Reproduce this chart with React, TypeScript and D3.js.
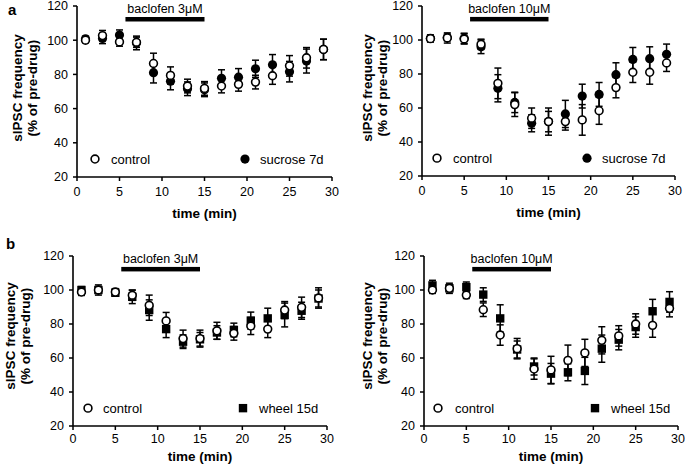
import React from "react";
import * as d3 from "d3";

const times = [1, 3, 5, 7, 9, 11, 13, 15, 17, 19, 21, 23, 25, 27, 29];
const xTicks = [0, 5, 10, 15, 20, 25, 30];
const yTicks = [20, 40, 60, 80, 100, 120];

// Panel a, baclofen 3µM
const aLeftControl = [100, 102.7, 99, 98.8, 86.4, 79.4, 73.2, 71.8, 73.2, 74.2, 75.5, 79.2, 85, 89.7, 94.6];
const aLeftControlErr = [1.5, 3, 2.5, 3, 6, 5, 4, 4, 4, 4, 4, 5, 6, 6, 6];
const aLeftSucrose = [100.8, 101, 103, 98.4, 81, 76, 71.6, 71, 77.7, 78.4, 83.3, 85.6, 81.6, 87.8, 94.6];
const aLeftSucroseErr = [1.5, 3, 3, 4, 6, 5, 4, 4, 5, 5, 5, 6, 6, 7, 6];

// Panel a, baclofen 10µM
const aRightControl = [100.8, 101.2, 100.6, 97.5, 74.5, 62, 54, 52, 52, 53, 58.4, 72, 81, 81, 86.5];
const aRightControlErr = [2, 3, 3, 3, 9, 7, 6, 8, 5, 9, 8, 6, 6, 7, 5];
const aRightSucrose = [101, 101.5, 101, 96, 71.6, 63.3, 51, 52, 56.5, 67, 68, 79.6, 88.6, 89, 91.6];
const aRightSucroseErr = [2, 2, 3, 4, 8, 6, 5, 6, 8, 7, 7, 7, 7, 7, 6];

// Panel b, baclofen 3µM
const bLeftControl = [98.8, 100, 98.8, 96.9, 91, 81.8, 71.4, 71.4, 76, 74.5, 78.8, 77, 88.2, 89.8, 95.3];
const bLeftControlErr = [2, 3, 2, 3, 6, 5, 5, 5, 5, 4, 5, 5, 5, 6, 6];
const bLeftWheel = [100, 100, 98.4, 96, 88.2, 77, 69.6, 71, 75, 76.5, 82, 83.3, 85.3, 87.8, 95];
const bLeftWheelErr = [2, 2, 2, 4, 6, 5, 4, 4, 4, 4, 5, 6, 7, 5, 5];

// Panel b, baclofen 10µM
const bRightControl = [100, 101, 97, 88.4, 73.5, 65.5, 53.5, 53, 58.6, 63, 70.4, 73, 80, 79.2, 89.2];
const bRightControlErr = [2, 3, 2, 4, 6, 6, 6, 8, 9, 8, 8, 6, 6, 7, 5];
const bRightWheel = [102.7, 101, 101.7, 97.3, 83.3, 65, 55, 50.8, 51.6, 52.4, 65.5, 70.8, 78.2, 87.5, 93];
const bRightWheelErr = [3, 2, 3, 4, 8, 5, 5, 6, 5, 8, 8, 6, 6, 7, 6];

const drugStart = 5.7;
const drugEnd = 15;

const FONT = "Arial, 'Liberation Sans', sans-serif";

type PanelProps = {
  x0: number; x1: number; yTop: number; yBot: number;
  control: number[]; controlErr: number[];
  treat: number[]; treatErr: number[];
  treatShape: "circle" | "square";
  treatLabel: string; drugLabel: string;
  ylab1: number; ylab2: number; ylabY: number;
  legCtrlX: number; legTreatX: number; legTreatTextX: number; legCtrlTextX: number;
  tickOff: number; xlabOff: number;
};

function Panel(p: PanelProps) {
  const x = d3.scaleLinear().domain([0, 30]).range([p.x0, p.x1]);
  const y = d3.scaleLinear().domain([20, 120]).range([p.yBot, p.yTop]);
  const cap = 3.5;
  const errBars = (vals: number[], errs: number[], key: string) =>
    times.map((t, i) => {
      const cx = x(t);
      const lo = y(vals[i] - errs[i]);
      const hi = y(vals[i] + errs[i]);
      return (
        <g key={key + i} stroke="#000" strokeWidth={1.5}>
          <line x1={cx} x2={cx} y1={lo} y2={hi} />
          <line x1={cx - cap} x2={cx + cap} y1={lo} y2={lo} />
          <line x1={cx - cap} x2={cx + cap} y1={hi} y2={hi} />
        </g>
      );
    });
  const legY = y(30.5);
  return (
    <g fontFamily={FONT}>
      {/* drug bar */}
      <rect x={x(drugStart)} y={y(112.4) - 2} width={x(drugEnd) - x(drugStart)} height={4.5} fill="#000" />
      <text x={(x(drugStart) + x(drugEnd)) / 2} y={y(112.4) - 6} textAnchor="middle" fontSize={12.5}>{p.drugLabel}</text>
      {/* axes */}
      <line x1={p.x0} x2={p.x0} y1={p.yTop} y2={p.yBot} stroke="#000" strokeWidth={1.6} />
      <line x1={p.x0} x2={p.x1} y1={p.yBot} y2={p.yBot} stroke="#000" strokeWidth={1.6} />
      {yTicks.map((v) => (
        <g key={"yt" + v}>
          <line x1={p.x0 - 4} x2={p.x0} y1={y(v)} y2={y(v)} stroke="#000" strokeWidth={1.5} />
          <text x={p.x0 - 9} y={y(v) + 4.3} textAnchor="end" fontSize={12.5}>{v}</text>
        </g>
      ))}
      {xTicks.map((v) => (
        <g key={"xt" + v}>
          <line x1={x(v)} x2={x(v)} y1={p.yBot} y2={p.yBot + 4} stroke="#000" strokeWidth={1.5} />
          <text x={x(v)} y={p.yBot + p.tickOff} textAnchor="middle" fontSize={12.5}>{v}</text>
        </g>
      ))}
      <text x={(p.x0 + p.x1) / 2} y={p.yBot + p.xlabOff} textAnchor="middle" fontSize={13.5} fontWeight="bold">time (min)</text>
      <text transform={`translate(${p.ylab1},${p.ylabY}) rotate(-90)`} textAnchor="middle" dominantBaseline="central" fontSize={13.5} fontWeight="bold">sIPSC frequency</text>
      <text transform={`translate(${p.ylab2},${p.ylabY}) rotate(-90)`} textAnchor="middle" dominantBaseline="central" fontSize={13.5} fontWeight="bold">(% of pre-drug)</text>
      {/* treatment series */}
      {errBars(p.treat, p.treatErr, "te")}
      {times.map((t, i) =>
        p.treatShape === "circle" ? (
          <circle key={"tm" + i} cx={x(t)} cy={y(p.treat[i])} r={4.6} fill="#000" />
        ) : (
          <rect key={"tm" + i} x={x(t) - 4.2} y={y(p.treat[i]) - 4.2} width={8.4} height={8.4} fill="#000" />
        )
      )}
      {/* control series */}
      {errBars(p.control, p.controlErr, "ce")}
      {times.map((t, i) => (
        <circle key={"cm" + i} cx={x(t)} cy={y(p.control[i])} r={3.9} fill="#fff" stroke="#000" strokeWidth={1.6} />
      ))}
      {/* legend */}
      <circle cx={p.legCtrlX} cy={legY} r={3.9} fill="#fff" stroke="#000" strokeWidth={1.6} />
      <text x={p.legCtrlTextX} y={legY + 4.5} fontSize={13}>control</text>
      {p.treatShape === "circle" ? (
        <circle cx={p.legTreatX} cy={legY} r={4.6} fill="#000" />
      ) : (
        <rect x={p.legTreatX - 4.2} y={legY - 4.2} width={8.4} height={8.4} fill="#000" />
      )}
      <text x={p.legTreatTextX} y={legY + 4.5} fontSize={13}>{p.treatLabel}</text>
    </g>
  );
}

export default function App() {
  return (
    <svg width={685} height={468} style={{ position: "absolute", left: 0, top: 0, background: "#fff" }}>
      <rect width={685} height={468} fill="#fff" />
      <text x={8} y={15} fontFamily={FONT} fontSize={15} fontWeight="bold">a</text>
      <text x={6} y={249} fontFamily={FONT} fontSize={15} fontWeight="bold">b</text>
      <Panel x0={77} x1={332} yTop={6} yBot={177}
        control={aLeftControl} controlErr={aLeftControlErr}
        treat={aLeftSucrose} treatErr={aLeftSucroseErr} treatShape="circle"
        treatLabel="sucrose 7d" drugLabel="baclofen 3μM"
        ylab1={17} ylab2={32} ylabY={88}
        legCtrlX={95} legCtrlTextX={111} legTreatX={245} legTreatTextX={260}
        tickOff={19} xlabOff={41} />
      <Panel x0={422} x1={675} yTop={6} yBot={176}
        control={aRightControl} controlErr={aRightControlErr}
        treat={aRightSucrose} treatErr={aRightSucroseErr} treatShape="circle"
        treatLabel="sucrose 7d" drugLabel="baclofen 10μM"
        ylab1={367} ylab2={382} ylabY={88}
        legCtrlX={437} legCtrlTextX={453} legTreatX={587} legTreatTextX={602}
        tickOff={19} xlabOff={41} />
      <Panel x0={73} x1={327} yTop={256} yBot={426}
        control={bLeftControl} controlErr={bLeftControlErr}
        treat={bLeftWheel} treatErr={bLeftWheelErr} treatShape="square"
        treatLabel="wheel 15d" drugLabel="baclofen 3μM"
        ylab1={10} ylab2={25} ylabY={336}
        legCtrlX={88} legCtrlTextX={103} legTreatX={243} legTreatTextX={259}
        tickOff={17} xlabOff={35} />
      <Panel x0={424} x1={678} yTop={256} yBot={426}
        control={bRightControl} controlErr={bRightControlErr}
        treat={bRightWheel} treatErr={bRightWheelErr} treatShape="square"
        treatLabel="wheel 15d" drugLabel="baclofen 10μM"
        ylab1={367} ylab2={382} ylabY={336}
        legCtrlX={438} legCtrlTextX={455} legTreatX={595} legTreatTextX={611}
        tickOff={17} xlabOff={35} />
    </svg>
  );
}
